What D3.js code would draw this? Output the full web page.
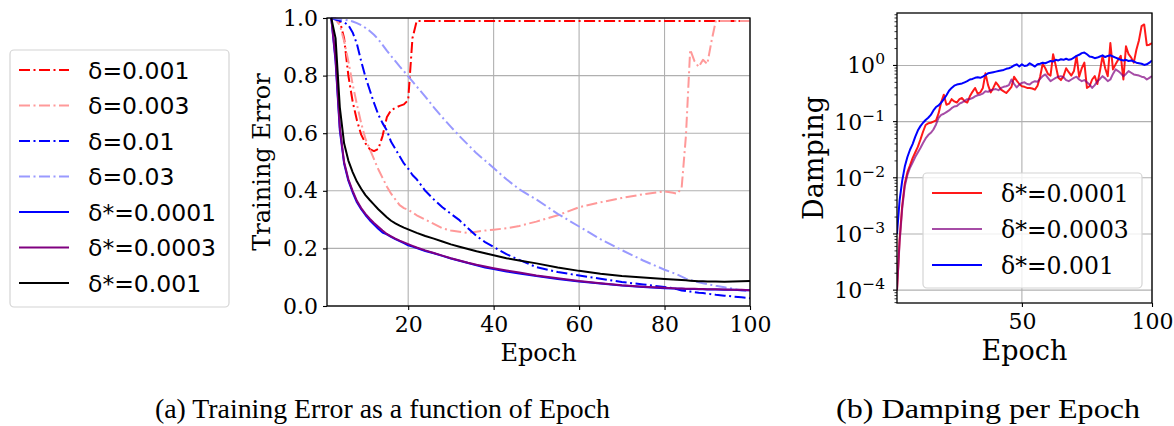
<!doctype html>
<html>
<head>
<meta charset="utf-8">
<title>Training Error and Damping</title>
<script src="https://d3js.org/d3.v7.min.js"></script>
<style>
body { margin: 0; background: white; }
svg text { fill: black; }
</style>
</head>
<body>
<div id="chart"></div>
<script>
// ---- data: training error (left panel) ----
var errEpochs = [2,3,4,5,6,7,8,9,10,11,12,13,14,15,16,17,18,19,20,21,22,24,26,28,30,32,34,36,38,40,43,46,50,55,60,65,70,75,80,82,83,84,85,86,87,88,89,90,91,92,94,96,98,100];

var errD001 = [1.0,0.998,0.99,0.93,0.80,0.71,0.645,0.595,0.565,0.545,0.538,0.545,0.59,0.655,0.68,0.688,0.695,0.70,0.715,0.93,0.99,
  0.99,0.99,0.99,0.99,0.99,0.99,0.99,0.99,0.99,0.99,0.99,0.99,0.99,0.99,0.99,0.99,0.99,0.99,0.99,0.99,0.99,0.99,0.99,0.99,0.99,0.99,0.99,0.99,0.99,0.99,0.99,0.99,0.99];
var errD003 = [1.0,0.995,0.975,0.92,0.85,0.77,0.70,0.635,0.58,0.545,0.51,0.475,0.445,0.415,0.39,0.37,0.35,0.34,0.334,0.325,0.315,
  0.30,0.285,0.27,0.262,0.258,0.254,0.258,0.262,0.265,0.27,0.278,0.293,0.315,0.343,0.36,0.375,0.388,0.398,0.393,0.39,0.41,0.59,0.89,0.85,0.83,0.855,0.84,0.92,0.99,0.99,0.99,0.99,0.99];
var errD01 = [1.0,0.995,0.99,0.985,0.975,0.95,0.91,0.85,0.795,0.75,0.705,0.665,0.635,0.61,0.57,0.545,0.52,0.495,0.477,0.455,0.44,
  0.40,0.37,0.343,0.32,0.298,0.27,0.243,0.222,0.205,0.18,0.16,0.135,0.118,0.106,0.095,0.083,0.075,0.066,0.062,0.058,0.054,0.052,0.05,0.048,0.046,0.045,0.043,0.041,0.039,0.036,0.033,0.03,0.027];
var errD03 = [1.0,0.998,0.996,0.994,0.992,0.988,0.982,0.975,0.966,0.955,0.942,0.926,0.907,0.887,0.868,0.85,0.832,0.815,0.797,0.78,0.762,
  0.727,0.69,0.655,0.622,0.59,0.56,0.53,0.505,0.479,0.44,0.405,0.37,0.32,0.276,0.232,0.194,0.158,0.126,0.115,0.109,0.102,0.095,0.09,0.086,0.082,0.079,0.076,0.073,0.07,0.065,0.06,0.055,0.05];
var errS0001 = [1.0,0.85,0.61,0.495,0.435,0.395,0.36,0.336,0.316,0.298,0.283,0.268,0.255,0.249,0.24,0.232,0.225,0.218,0.211,0.206,0.201,
  0.191,0.183,0.174,0.165,0.157,0.149,0.141,0.134,0.128,0.12,0.113,0.104,0.094,0.085,0.078,0.071,0.066,0.062,0.061,0.06,0.06,0.059,0.059,0.059,0.058,0.058,0.057,0.057,0.057,0.056,0.056,0.055,0.055];
var errS0003 = [1.0,0.86,0.62,0.50,0.44,0.40,0.365,0.34,0.32,0.303,0.288,0.275,0.262,0.25,0.242,0.234,0.227,0.221,0.215,0.209,0.203,
  0.193,0.184,0.175,0.166,0.158,0.15,0.143,0.137,0.131,0.123,0.116,0.106,0.096,0.087,0.079,0.072,0.067,0.063,0.062,0.061,0.061,0.06,0.06,0.06,0.059,0.059,0.058,0.058,0.058,0.057,0.056,0.056,0.055];
var errS001 = [1.0,0.93,0.69,0.565,0.505,0.465,0.432,0.407,0.385,0.368,0.352,0.336,0.322,0.308,0.296,0.287,0.279,0.272,0.266,0.26,0.254,
  0.243,0.234,0.224,0.214,0.206,0.198,0.19,0.183,0.176,0.166,0.158,0.148,0.134,0.122,0.112,0.104,0.099,0.094,0.092,0.091,0.09,0.089,0.088,0.087,0.086,0.086,0.085,0.085,0.085,0.084,0.085,0.086,0.087];

var errNames = ["δ=0.001","δ=0.003","δ=0.01","δ=0.03","δ*=0.0001","δ*=0.0003","δ*=0.001"];
var errColors = ["#ff0000","#ff9999","#0000ff","#9999ff","#0000ff","#800080","#000000"];
var errDashed = [true,true,true,true,false,false,false];
var errTicksX = [20,40,60,80,100];
var errTicksY = [0,0.2,0.4,0.6,0.8,1.0];

// ---- data: damping per epoch (right panel), read in decades (log10) ----
var dampEpochs = d3.range(2, 101);
var dampLogS0001 = [-4.0,-3.1,-2.5,-2.1,-1.9,-1.78,-1.65,-1.55,-1.45,-1.32,-1.18,-1.06,-1.03,-1.02,-1.0,-0.98,-0.85,-0.65,-0.52,
  -0.7,-0.68,-0.6,-0.64,-0.66,-0.6,-0.58,-0.64,-0.66,-0.55,-0.47,-0.4,-0.5,-0.48,-0.4,-0.14,-0.35,-0.48,-0.4,-0.3,
  -0.36,-0.43,-0.46,-0.49,-0.44,-0.38,-0.2,-0.27,-0.33,-0.37,-0.38,-0.4,-0.4,-0.41,-0.43,-0.36,-0.2,0.03,-0.05,-0.15,
  -0.18,0.2,0.0,-0.22,-0.26,-0.19,-0.05,-0.12,-0.18,-0.1,0.17,-0.2,-0.05,0.05,-0.4,-0.37,-0.25,-0.19,-0.33,-0.1,
  0.17,-0.05,-0.19,0.4,-0.07,0.02,0.1,0.17,-0.25,0.34,0.2,0.14,0.05,0.28,0.45,0.7,0.73,0.36,0.37,0.4];
var dampLogS0003 = [-4.0,-3.15,-2.55,-2.15,-1.95,-1.82,-1.73,-1.63,-1.55,-1.47,-1.38,-1.3,-1.24,-1.2,-1.14,-1.05,-0.93,-0.88,-0.86,
  -0.83,-0.8,-0.76,-0.73,-0.72,-0.68,-0.66,-0.63,-0.6,-0.6,-0.58,-0.55,-0.53,-0.52,-0.5,-0.46,-0.47,-0.44,-0.43,-0.42,
  -0.44,-0.4,-0.38,-0.37,-0.35,-0.25,-0.33,-0.39,-0.34,-0.31,-0.3,-0.33,-0.34,-0.3,-0.28,-0.29,-0.24,-0.19,-0.16,-0.22,
  -0.28,-0.25,-0.22,-0.2,-0.19,-0.21,-0.26,-0.28,-0.25,-0.22,-0.2,-0.25,-0.28,-0.26,-0.3,-0.34,-0.4,-0.35,-0.28,-0.24,
  -0.19,-0.23,-0.28,-0.25,-0.15,-0.07,-0.1,-0.14,-0.19,-0.15,-0.1,-0.13,-0.16,-0.17,-0.18,-0.2,-0.21,-0.25,-0.22,-0.19];
var dampLogS001 = [-3.0,-2.4,-2.05,-1.8,-1.63,-1.5,-1.4,-1.27,-1.16,-1.08,-1.02,-0.97,-0.93,-0.88,-0.8,-0.74,-0.71,-0.66,-0.6,
  -0.53,-0.45,-0.4,-0.36,-0.34,-0.33,-0.32,-0.3,-0.28,-0.25,-0.24,-0.22,-0.21,-0.22,-0.2,-0.17,-0.14,-0.13,-0.12,-0.11,
  -0.1,-0.09,-0.08,-0.06,-0.05,-0.03,0.0,0.02,-0.02,0.02,-0.01,0.0,0.04,0.01,-0.02,0.02,0.03,0.05,0.04,0.06,
  0.08,0.07,0.1,0.09,0.11,0.1,0.12,0.1,0.11,0.14,0.17,0.19,0.22,0.23,0.2,0.16,0.15,0.13,0.14,0.16,
  0.18,0.15,0.17,0.18,0.16,0.14,0.12,0.1,0.09,0.1,0.08,0.09,0.07,0.05,0.04,0.03,0.01,0.02,0.05,0.09];

var dampNames = ["δ*=0.0001","δ*=0.0003","δ*=0.001"];
var dampColors = ["#ff0000","#800080","#0000ff"];
var dampOpacity = [0.9,0.7,1.0];
var dampTicksX = [50,100];
var dampTicksY = [-4,-3,-2,-1,0];

var captions = ["(a) Training Error as a function of Epoch","(b) Damping per Epoch"];

var serif = "DejaVu Serif";
var gridColor = "#b0b0b0";
var dashDot = "11,3.5,2,3.5";

var svg = d3.select("#chart").append("svg")
  .attr("width", 1174)
  .attr("height", 426);

// ================= left panel =================
var x1 = d3.scaleLinear().domain([1, 100]).range([327, 750]);
var y1 = d3.scaleLinear().domain([0, 1]).range([306, 18]);

var g1 = svg.append("g");

// grid
g1.selectAll("line.gx").data(errTicksX).enter().append("line")
  .attr("x1", d => x1(d)).attr("x2", d => x1(d))
  .attr("y1", y1(0)).attr("y2", y1(1))
  .attr("stroke", gridColor).attr("stroke-width", 1.1);
g1.selectAll("line.gy").data(errTicksY).enter().append("line")
  .attr("x1", x1(1)).attr("x2", x1(100))
  .attr("y1", d => y1(d)).attr("y2", d => y1(d))
  .attr("stroke", gridColor).attr("stroke-width", 1.1);

svg.append("clipPath").attr("id", "clip1").append("rect")
  .attr("x", x1(1)).attr("y", y1(1) - 2).attr("width", x1(100) - x1(1)).attr("height", y1(0) - y1(1) + 2);

var errSeries = [errD001, errD003, errD01, errD03, errS0001, errS0003, errS001];
var line1 = d3.line().x(d => x1(d[0])).y(d => y1(d[1]));

errSeries.forEach(function(vals, i) {
  var pts = errEpochs.map((e, j) => [e, vals[j]]);
  g1.append("path")
    .attr("clip-path", "url(#clip1)")
    .attr("d", line1(pts))
    .attr("fill", "none")
    .attr("stroke", errColors[i])
    .attr("stroke-width", 2)
    .attr("stroke-linejoin", "round")
    .attr("stroke-dasharray", errDashed[i] ? dashDot : null);
});

// axes
var ax1 = g1.append("g")
  .attr("transform", "translate(0," + y1(0) + ")")
  .call(d3.axisBottom(x1).tickValues(errTicksX).tickSize(4).tickPadding(6).tickSizeOuter(0));
var ay1 = g1.append("g")
  .attr("transform", "translate(" + x1(1) + ",0)")
  .call(d3.axisLeft(y1).tickValues(errTicksY).tickFormat(d3.format(".1f")).tickSize(4).tickPadding(5).tickSizeOuter(0));
[ax1, ay1].forEach(function(a) {
  a.select(".domain").remove();
  a.selectAll("text").attr("font-family", serif).attr("font-size", 22);
  a.selectAll("line").attr("stroke-width", 1.1);
});

g1.append("rect")
  .attr("x", x1(1)).attr("y", y1(1))
  .attr("width", x1(100) - x1(1)).attr("height", y1(0) - y1(1))
  .attr("fill", "none").attr("stroke", "black").attr("stroke-width", 1.3);

g1.append("text")
  .attr("x", (x1(1) + x1(100)) / 2).attr("y", 361)
  .attr("text-anchor", "middle")
  .attr("font-family", serif).attr("font-size", 24)
  .text("Epoch");
g1.append("text")
  .attr("transform", "translate(270," + (y1(0) + y1(1)) / 2 + ") rotate(-90)")
  .attr("text-anchor", "middle")
  .attr("font-family", serif).attr("font-size", 24)
  .text("Training Error");

// left legend
var leg1 = svg.append("g");
leg1.append("rect")
  .attr("x", 10).attr("y", 50).attr("width", 219).attr("height", 257)
  .attr("rx", 4).attr("fill", "white").attr("stroke", "#d4d4d4").attr("stroke-width", 1.2);
errNames.forEach(function(name, i) {
  var cy = 70 + i * 35.5;
  leg1.append("line")
    .attr("x1", 19).attr("x2", 69).attr("y1", cy).attr("y2", cy)
    .attr("stroke", errColors[i]).attr("stroke-width", 2)
    .attr("stroke-dasharray", errDashed[i] ? dashDot : null);
  leg1.append("text")
    .attr("x", 88).attr("y", cy + 8.5)
    .attr("font-family", "DejaVu Sans").attr("font-size", 23.5)
    .text(name);
});

// ================= right panel =================
var x2 = d3.scaleLinear().domain([2, 100]).range([897, 1152]);
var y2 = d3.scaleLog().domain([Math.pow(10, -4.229), Math.pow(10, 0.934)]).range([303, 13]);

var g2 = svg.append("g");

g2.selectAll("line.gx").data(dampTicksX).enter().append("line")
  .attr("x1", d => x2(d)).attr("x2", d => x2(d))
  .attr("y1", 303).attr("y2", 13)
  .attr("stroke", gridColor).attr("stroke-width", 1.1);
g2.selectAll("line.gy").data(dampTicksY).enter().append("line")
  .attr("x1", 897).attr("x2", 1152)
  .attr("y1", d => y2(Math.pow(10, d))).attr("y2", d => y2(Math.pow(10, d)))
  .attr("stroke", gridColor).attr("stroke-width", 1.1);

svg.append("clipPath").attr("id", "clip2").append("rect")
  .attr("x", 897).attr("y", 13).attr("width", 255).attr("height", 290);

var dampSeries = [dampLogS0001, dampLogS0003, dampLogS001];
var line2 = d3.line().x(d => x2(d[0])).y(d => y2(Math.pow(10, d[1])));
dampSeries.forEach(function(vals, i) {
  var pts = dampEpochs.map((e, j) => [e, vals[j]]);
  g2.append("path")
    .attr("clip-path", "url(#clip2)")
    .attr("d", line2(pts))
    .attr("fill", "none")
    .attr("stroke", dampColors[i])
    .attr("stroke-opacity", dampOpacity[i])
    .attr("stroke-width", 2)
    .attr("stroke-linejoin", "round");
});

// x axis
var ax2 = g2.append("g")
  .attr("transform", "translate(0,303)")
  .call(d3.axisBottom(x2).tickValues(dampTicksX).tickSize(4).tickPadding(6).tickSizeOuter(0));
ax2.select(".domain").remove();
ax2.selectAll("text").attr("font-family", serif).attr("font-size", 22);
ax2.selectAll("line").attr("stroke-width", 1.1);

// y axis: major ticks with 10^k labels, minor ticks
var minors = [];
[-5,-4,-3,-2,-1,0].forEach(function(k) {
  for (var m = 2; m < 10; m++) {
    var v = m * Math.pow(10, k);
    if (v > y2.domain()[0] && v < y2.domain()[1]) minors.push(v);
  }
});
g2.selectAll("line.minor").data(minors).enter().append("line")
  .attr("x1", 897).attr("x2", 894.5)
  .attr("y1", d => y2(d)).attr("y2", d => y2(d))
  .attr("stroke", "black").attr("stroke-width", 0.8);
g2.selectAll("line.major").data(dampTicksY).enter().append("line")
  .attr("x1", 897).attr("x2", 893)
  .attr("y1", d => y2(Math.pow(10, d))).attr("y2", d => y2(Math.pow(10, d)))
  .attr("stroke", "black").attr("stroke-width", 1.1);
var yl = g2.selectAll("text.ylab").data(dampTicksY).enter().append("text")
  .attr("x", 885).attr("y", d => y2(Math.pow(10, d)) + 8)
  .attr("text-anchor", "end")
  .attr("font-family", serif).attr("font-size", 22);
yl.append("tspan").text("10");
yl.append("tspan").attr("dy", -9).attr("font-size", 15.5).text(d => d < 0 ? "\u2212" + (-d) : String(d));

g2.append("rect")
  .attr("x", 897).attr("y", 13).attr("width", 255).attr("height", 290)
  .attr("fill", "none").attr("stroke", "black").attr("stroke-width", 1.3);

g2.append("text")
  .attr("x", (897 + 1152) / 2).attr("y", 360)
  .attr("text-anchor", "middle")
  .attr("font-family", serif).attr("font-size", 27)
  .text("Epoch");
g2.append("text")
  .attr("transform", "translate(823,158) rotate(-90)")
  .attr("text-anchor", "middle")
  .attr("font-family", serif).attr("font-size", 27)
  .text("Damping");

// right legend
var leg2 = svg.append("g");
leg2.append("rect")
  .attr("x", 923).attr("y", 173).attr("width", 219).attr("height", 115)
  .attr("rx", 4).attr("fill", "white").attr("fill-opacity", 0.8)
  .attr("stroke", "#d4d4d4").attr("stroke-width", 1.2);
dampNames.forEach(function(name, i) {
  var cy = 193 + i * 36;
  leg2.append("line")
    .attr("x1", 932).attr("x2", 982).attr("y1", cy).attr("y2", cy)
    .attr("stroke", dampColors[i]).attr("stroke-opacity", dampOpacity[i]).attr("stroke-width", 2);
  leg2.append("text")
    .attr("x", 1001).attr("y", cy + 8.5)
    .attr("font-family", serif).attr("font-size", 23.5)
    .text(name);
});

// captions
svg.append("text")
  .attr("x", 155).attr("y", 418)
  .attr("textLength", 455).attr("lengthAdjust", "spacingAndGlyphs")
  .attr("font-family", "Liberation Serif").attr("font-size", 27)
  .text(captions[0]);
svg.append("text")
  .attr("x", 836).attr("y", 418)
  .attr("textLength", 304).attr("lengthAdjust", "spacingAndGlyphs")
  .attr("font-family", "Liberation Serif").attr("font-size", 27)
  .text(captions[1]);
</script>
</body>
</html>
